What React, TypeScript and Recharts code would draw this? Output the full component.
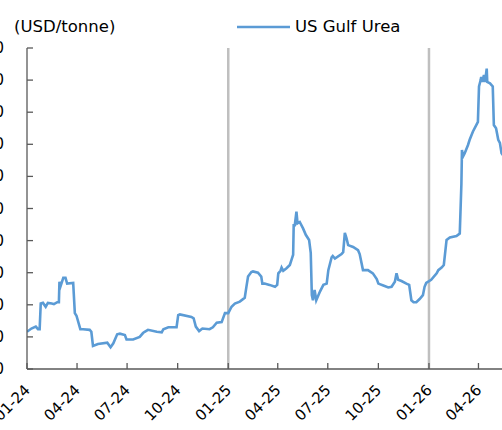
import { LineChart, Line, XAxis, YAxis, ReferenceLine, Legend } from "recharts";

// US Gulf urea, USD/tonne
const dates = [
  "2024-01-01", "2024-01-09", "2024-01-17", "2024-01-21", "2024-01-24", "2024-01-26", "2024-01-30",
  "2024-02-04", "2024-02-08", "2024-02-15", "2024-02-19", "2024-02-25", "2024-02-28", "2024-02-29",
  "2024-03-02", "2024-03-07", "2024-03-11", "2024-03-14", "2024-03-25", "2024-03-28", "2024-03-31",
  "2024-04-07", "2024-04-12", "2024-04-24", "2024-04-27", "2024-04-30", "2024-05-09", "2024-05-26",
  "2024-06-01", "2024-06-06", "2024-06-13", "2024-06-18", "2024-06-27", "2024-06-30", "2024-07-12",
  "2024-07-24", "2024-07-30", "2024-08-02", "2024-08-08", "2024-08-24", "2024-09-02", "2024-09-05",
  "2024-09-14", "2024-09-29", "2024-10-02", "2024-10-05", "2024-10-26", "2024-10-30", "2024-11-03",
  "2024-11-09", "2024-11-15", "2024-11-28", "2024-12-04", "2024-12-11", "2024-12-20", "2024-12-26",
  "2025-01-01", "2025-01-07", "2025-01-13", "2025-01-22", "2025-01-31", "2025-02-03", "2025-02-06",
  "2025-02-12", "2025-02-15", "2025-02-24", "2025-03-02", "2025-03-04", "2025-03-08", "2025-03-17",
  "2025-03-27", "2025-03-31", "2025-04-02", "2025-04-06", "2025-04-08", "2025-04-11", "2025-04-17",
  "2025-04-23", "2025-04-26", "2025-04-29", "2025-04-30", "2025-05-02", "2025-05-05", "2025-05-07",
  "2025-05-11", "2025-05-17", "2025-05-22", "2025-05-28", "2025-05-31", "2025-06-02", "2025-06-04",
  "2025-06-07", "2025-06-10", "2025-06-17", "2025-06-23", "2025-06-29", "2025-07-02", "2025-07-08",
  "2025-07-10", "2025-07-14", "2025-07-26", "2025-07-29", "2025-08-01", "2025-08-04", "2025-08-07",
  "2025-08-16", "2025-08-25", "2025-08-28", "2025-09-03", "2025-09-12", "2025-09-21", "2025-09-28",
  "2025-10-01", "2025-10-10", "2025-10-19", "2025-10-25", "2025-10-31", "2025-11-03", "2025-11-06",
  "2025-11-12", "2025-11-21", "2025-11-26", "2025-11-30", "2025-12-04", "2025-12-09", "2025-12-15",
  "2025-12-21", "2025-12-24", "2025-12-27", "2026-01-05", "2026-01-15", "2026-01-18", "2026-01-24",
  "2026-01-28", "2026-02-02", "2026-02-08", "2026-02-20", "2026-02-26", "2026-03-01", "2026-03-02",
  "2026-03-04", "2026-03-07", "2026-03-13", "2026-03-16", "2026-03-22", "2026-03-28", "2026-03-31",
  "2026-04-02", "2026-04-05", "2026-04-06", "2026-04-08", "2026-04-11", "2026-04-13", "2026-04-16",
  "2026-04-17", "2026-04-22", "2026-04-27", "2026-04-29", "2026-05-03", "2026-05-07", "2026-05-10",
  "2026-05-13", "2026-05-19",
];

const urea = [
  358, 363, 366, 362, 362, 402, 403,
  397, 403, 402, 401, 404, 404, 436,
  429, 442, 442, 433, 434, 387, 383,
  362, 362, 361, 358, 336, 339, 341,
  334, 340, 354, 355, 353, 346, 346,
  350, 356, 358, 361, 358, 357, 362,
  365, 365, 384, 385, 381, 379, 366,
  359, 363, 362, 365, 372, 373, 387,
  387, 397, 402, 405, 411, 428, 444,
  451, 452, 450, 444, 433, 433, 431,
  428, 431, 449, 453, 458, 453, 457,
  462, 470, 478, 524, 524, 545, 527,
  529, 519, 509, 501, 481, 415, 407,
  423, 407, 421, 431, 433, 454, 474,
  476, 472, 479, 482, 512, 504, 493,
  490, 485, 479, 454, 454, 449, 440,
  433, 430, 427, 428, 436, 449, 439,
  437, 433, 431, 407, 404, 404, 409,
  415, 428, 434, 439, 449, 454, 458,
  462, 501, 505, 507, 511, 589, 641,
  631, 636, 649, 657, 670, 680, 685,
  740, 750, 755, 747, 758, 747, 768,
  747, 745, 740, 680, 675, 657, 652,
  636, 629,
];

const xTicks = [
  "2024-01-01", "2024-04-01", "2024-07-01", "2024-10-01",
  "2025-01-01", "2025-04-01", "2025-07-01", "2025-10-01",
  "2026-01-01", "2026-04-01",
];
const yTicks = [300, 350, 400, 450, 500, 550, 600, 650, 700, 750, 800];
const yearLines = ["2025-01-01", "2026-01-01"];
const xStart = "2024-01-01";
const xEnd = "2026-06-01";

const toTime = (s: string) => Date.parse(s + "T00:00:00Z");

const data = dates.map((d, i) => ({ t: toTime(d), urea: urea[i] }));

const AXIS = "#595959";
const FONT = "DejaVu Sans";

const fmtMonth = (t: number) => {
  const d = new Date(t);
  const m = String(d.getUTCMonth() + 1).padStart(2, "0");
  const y = String(d.getUTCFullYear()).slice(2);
  return `${m}-${y}`;
};

const XTick = ({ x, y, payload }: any) => (
  <g>
    <line x1={x} x2={x} y1={y} y2={y - 6} stroke={AXIS} strokeWidth={1.3} />
    <text
      x={x + 4}
      y={y + 22}
      textAnchor="end"
      transform={`rotate(-45, ${x + 4}, ${y + 22})`}
      fontSize={15}
      fontFamily={FONT}
      fill="#000"
    >
      {fmtMonth(payload.value)}
    </text>
  </g>
);

const YTick = ({ x, y, payload }: any) => (
  <g>
    <line x1={x + 23} x2={x + 29} y1={y} y2={y} stroke={AXIS} strokeWidth={1.3} />
    <text
      x={x}
      y={y}
      textAnchor="end"
      dominantBaseline="central"
      fontSize={15}
      fontFamily={FONT}
      fill="#000"
    >
      {payload.value}
    </text>
  </g>
);

const LegendBox = () => (
  <div style={{ display: "flex", alignItems: "center", fontFamily: FONT, fontSize: 16.5, color: "#000" }}>
    <svg width={53} height={4} style={{ marginRight: 5 }}>
      <line x1={0} x2={53} y1={2} y2={2} stroke="#5b9bd5" strokeWidth={2.5} />
    </svg>
    <span>US Gulf Urea</span>
  </div>
);

export default function App() {
  return (
    <div
      style={{
        position: "fixed",
        left: 0,
        top: 0,
        width: 502,
        height: 430,
        overflow: "hidden",
        background: "#fff",
      }}
    >
      <div
        style={{
          position: "absolute",
          left: 14,
          top: 17,
          fontFamily: FONT,
          fontSize: 16.5,
          color: "#000",
          lineHeight: "20px",
        }}
      >
        (USD/tonne)
      </div>
      <LineChart
        width={512}
        height={430}
        data={data}
        margin={{ top: 48, right: 0, left: 0, bottom: 31 }}
      >
        <XAxis
          dataKey="t"
          type="number"
          domain={[toTime(xStart), toTime(xEnd)]}
          allowDataOverflow
          ticks={xTicks.map(toTime)}
          interval={0}
          height={30}
          tickSize={0}
          tickMargin={0}
          tickLine={false}
          axisLine={{ stroke: AXIS, strokeWidth: 1.3 }}
          tick={<XTick />}
        />
        <YAxis
          domain={[300, 800]}
          ticks={yTicks}
          interval={0}
          width={27}
          tickSize={0}
          tickMargin={23}
          tickLine={false}
          axisLine={{ stroke: AXIS, strokeWidth: 1.3 }}
          tick={<YTick />}
        />
        {yearLines.map((d) => (
          <ReferenceLine key={d} x={toTime(d)} stroke="#bfbfbf" strokeWidth={2.5} />
        ))}
        <Legend
          verticalAlign="middle"
          align="center"
          wrapperStyle={{ top: 17, left: 237, width: "auto", height: 20 }}
          content={() => <LegendBox />}
        />
        <Line
          type="linear"
          dataKey="urea"
          name="US Gulf Urea"
          stroke="#5b9bd5"
          strokeWidth={2.6}
          dot={false}
          isAnimationActive={false}
        />
      </LineChart>
    </div>
  );
}
